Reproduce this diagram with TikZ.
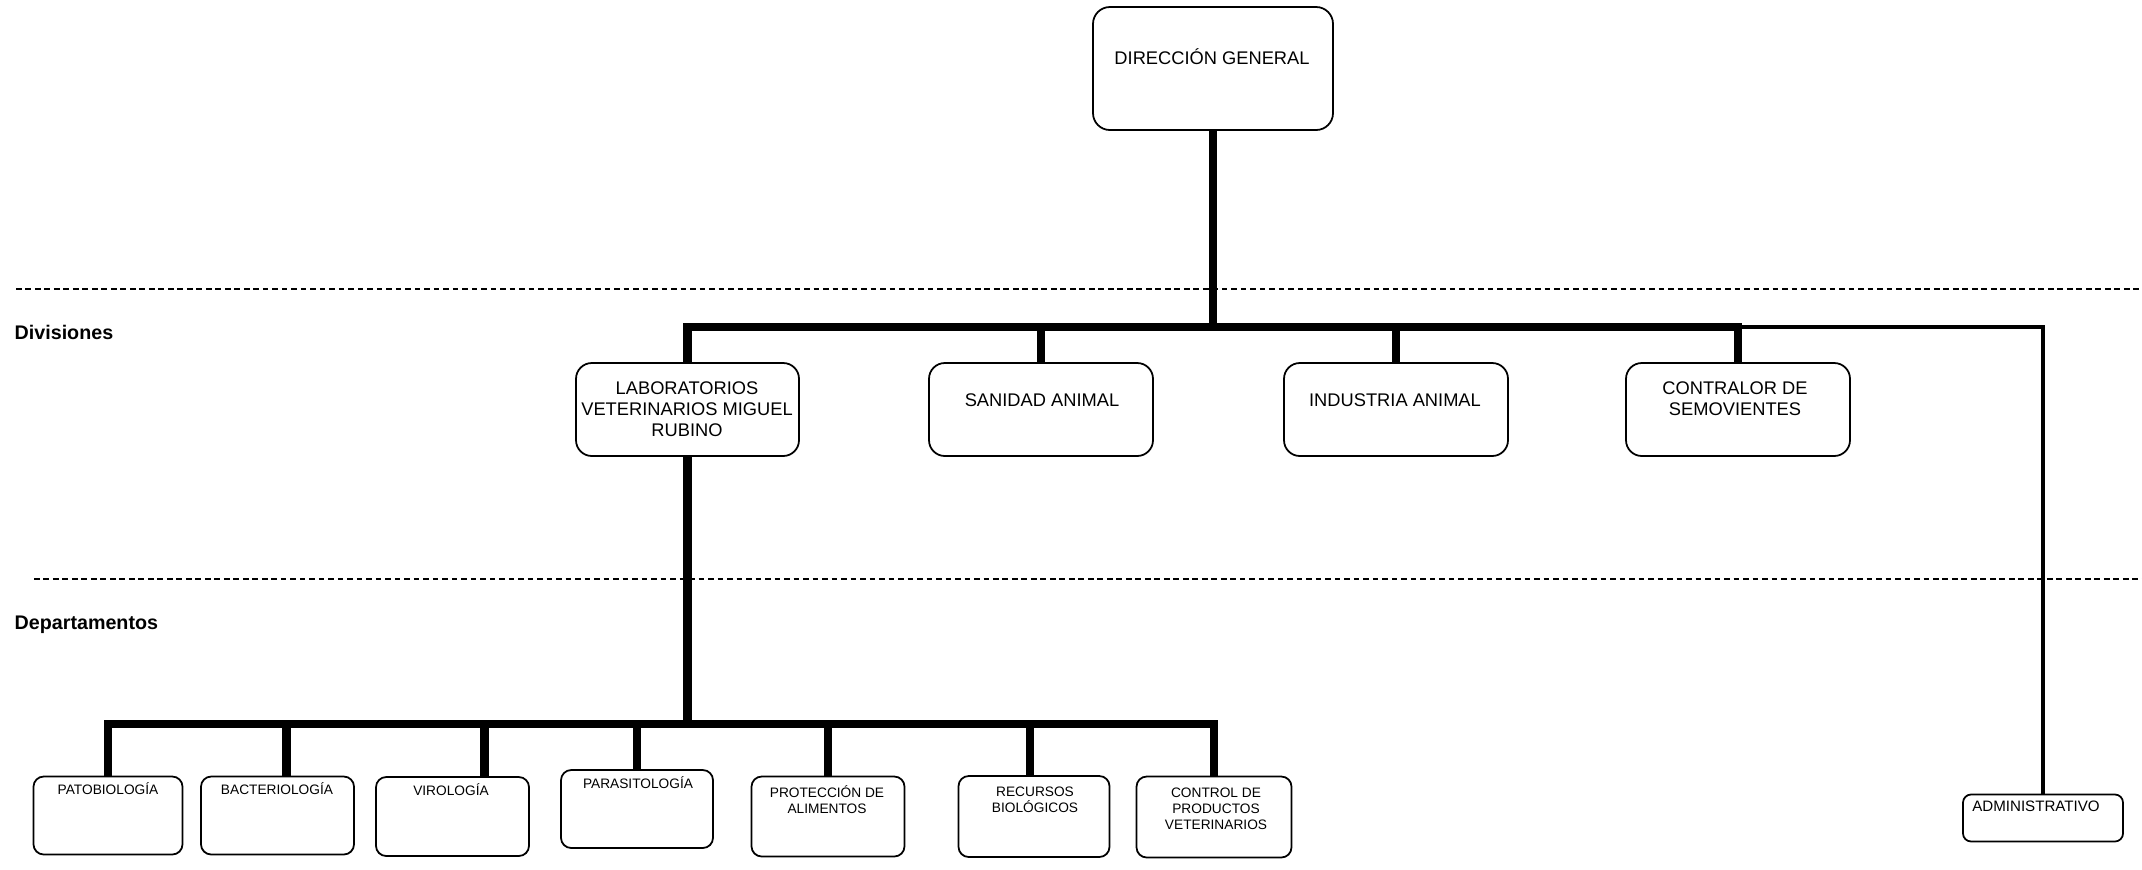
\documentclass[tikz,border=0pt]{standalone}
\usepackage{fontspec}
\setmainfont{Liberation Sans}
\usetikzlibrary{calc}
\begin{document}
\begin{tikzpicture}[x=0.01cm,y=-0.01cm,
  box/.style={draw, line width=0.5pt, rounded corners=4.5pt, inner sep=0pt},
  dbox/.style={box, rounded corners=2.9pt},
  sz/.style 2 args={minimum width=#1*0.01cm, minimum height=#2*0.01cm},
  conn/.style={line width=2.3pt},
  thinconn/.style={line width=1.2pt},
  sep/.style={line width=0.4pt, dash pattern=on 1.6pt off 1.1pt},
  divtxt/.style={font=\fontsize{5.2}{5.9}\selectfont, align=center, inner sep=0pt},
  deptxt/.style={font=\fontsize{3.9}{4.6}\selectfont, align=center, inner sep=0pt},
  lbl/.style={font=\bfseries\fontsize{5.6}{6.5}\selectfont, anchor=west, inner sep=0pt}]
\useasboundingbox (0,0) rectangle (2142,869);

% separators and level labels
\coordinate (s1a) at (16,289);  \coordinate (s1b) at (2142,289);
\coordinate (s2a) at (34,579);  \coordinate (s2b) at (2142,579);
\draw[sep] (s1a) -- (s1b);
\draw[sep] (s2a) -- (s2b);
\node[lbl] (ldiv) at (14,332) {Divisiones};
\node[lbl] (ldep) at (14,625) {Departamentos};

% top
\node[box, rounded corners=4.8pt, sz={240}{123}] (dg) at (1213,68.5) {};
\node[divtxt] (dgt) at (1212,57) {DIRECCIÓN GENERAL};

% divisions
\node[box, sz={223}{93}] (lab) at (687.5,409.5) {};
\node[box, sz={224}{93}] (san) at (1041,409.5) {};
\node[box, sz={224}{93}] (ind) at (1396,409.5) {};
\node[box, sz={224}{93}] (con) at (1738,409.5) {};
\node[divtxt] (labt) at (687,409) {LABORATORIOS\\VETERINARIOS MIGUEL\\RUBINO};
\node[divtxt] (sant) at (1042,400) {SANIDAD ANIMAL};
\node[divtxt] (indt) at (1395,400) {INDUSTRIA ANIMAL};
\node[divtxt] (cont) at (1735,399) {CONTRALOR DE\\SEMOVIENTES};

% departments
\node[dbox, sz={149}{78}] (pat) at (108,815.5) {};
\node[dbox, sz={153}{78}] (bac) at (277.5,815.5) {};
\node[dbox, sz={153}{79}] (vir) at (452.5,816.5) {};
\node[dbox, sz={152}{78}] (par) at (637,809) {};
\node[dbox, sz={153}{80}] (pro) at (828,816.5) {};
\node[dbox, sz={151}{81}] (rec) at (1034,816.5) {};
\node[dbox, sz={155}{81}] (ctl) at (1214,817) {};
\node[dbox, rounded corners=2.3pt, sz={160}{47}] (adm) at (2043,818) {};

\node[deptxt] (patt) at (108,789) {PATOBIOLOGÍA};
\node[deptxt] (bact) at (277,789) {BACTERIOLOGÍA};
\node[deptxt] (virt) at (451,790) {VIROLOGÍA};
\node[deptxt] (part) at (638,783) {PARASITOLOGÍA};
\node[deptxt] (prot) at (827,800) {PROTECCIÓN DE\\ALIMENTOS};
\node[deptxt] (rect) at (1035,800) {RECURSOS\\BIOLÓGICOS};
\node[deptxt] (ctlt) at (1216,809) {CONTROL DE\\PRODUCTOS\\VETERINARIOS};
\node[deptxt, font=\fontsize{4.3}{5}\selectfont] (admt) at (2036,806) {ADMINISTRATIVO};

% division connectors
\coordinate (dj) at (1213,327);
\draw[conn] (dg.south) -- (dg.south |- dj);
\draw[conn] (lab.north) -- (lab.north |- dj) -- (con.north |- dj) -- (con.north);
\draw[conn] (san.north) -- (san.north |- dj);
\draw[conn] (ind.north) -- (ind.north |- dj);
\draw[thinconn] (con.north |- dj) -| (adm.north);

% department connectors
\coordinate (db) at (687,724);
\coordinate (bs) at ($(bac.north)+(9,0)$);
\coordinate (vs) at ($(vir.north)+(32,0)$);
\coordinate (rs) at ($(rec.north)+(-4,0)$);
\draw[conn] (lab.south) -- (lab.south |- db);
\draw[conn] (pat.north) -- (pat.north |- db) -- (ctl.north |- db) -- (ctl.north);
\draw[conn] (bs) -- (bs |- db);
\draw[conn] (vs) -- (vs |- db);
\draw[conn] (par.north) -- (par.north |- db);
\draw[conn] (pro.north) -- (pro.north |- db);
\draw[conn] (rs) -- (rs |- db);
\end{tikzpicture}
\end{document}
